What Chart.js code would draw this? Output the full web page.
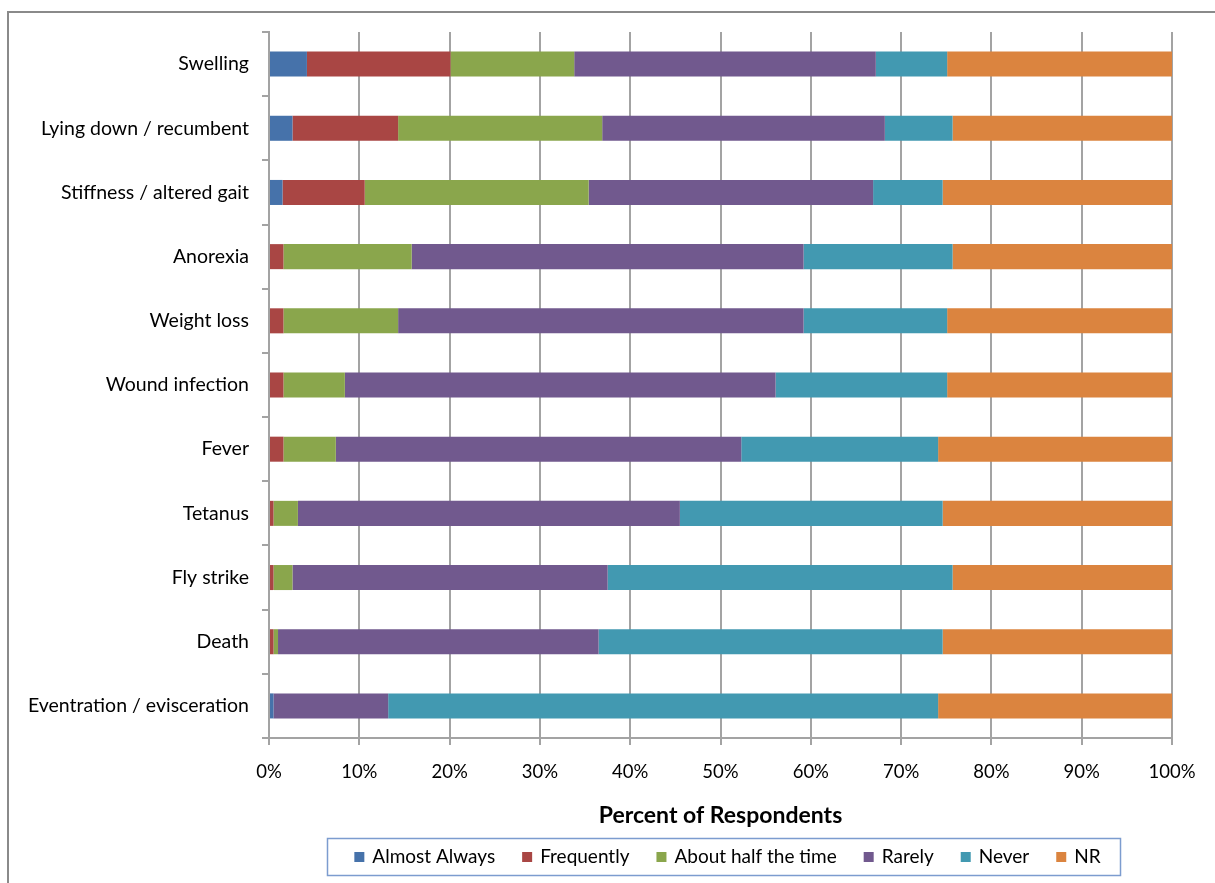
<!DOCTYPE html>
<html>
<head>
<meta charset="utf-8">
<script src="https://cdn.jsdelivr.net/npm/chart.js@4/dist/chart.umd.min.js"></script>
<style>
  html, body { margin: 0; padding: 0; background: #fff; }
  #wrap { width: 1215px; height: 883px; position: relative; }
</style>
</head>
<body>
<div id="wrap"><canvas id="c" width="1215" height="883"></canvas></div>
<script>
const categories = ["Swelling", "Lying down / recumbent", "Stiffness / altered gait", "Anorexia", "Weight loss", "Wound infection", "Fever", "Tetanus", "Fly strike", "Death", "Eventration / evisceration"];
const seriesNames = ["Almost Always", "Frequently", "About half the time", "Rarely", "Never", "NR"];
const almostAlways = [4.2, 2.6, 1.5, 0, 0, 0, 0, 0, 0, 0, 0.5];
const frequently   = [15.9, 11.7, 9.1, 1.6, 1.6, 1.6, 1.6, 0.5, 0.5, 0.5, 0];
const aboutHalf    = [13.7, 22.6, 24.8, 14.2, 12.7, 6.8, 5.8, 2.7, 2.1, 0.5, 0];
const rarely       = [33.4, 31.3, 31.5, 43.4, 44.9, 47.7, 44.9, 42.3, 34.9, 35.5, 12.7];
const never        = [7.9, 7.5, 7.7, 16.5, 15.9, 19.0, 21.8, 29.1, 38.2, 38.1, 60.9];
const nr           = [24.9, 24.3, 25.4, 24.3, 24.9, 24.9, 25.9, 25.4, 24.3, 25.4, 25.9];
const xTicks = [0, 10, 20, 30, 40, 50, 60, 70, 80, 90, 100];
const colors = ["#4672aa", "#a94644", "#8aa64c", "#71598e", "#4299b1", "#db843f"];
const seriesData = [almostAlways, frequently, aboutHalf, rarely, never, nr];

const FONT = "Lato";
const GRID = "#a3a3a3";

const frame = {
  id: 'frame',
  beforeDraw(chart) {
    const ctx = chart.ctx;
    ctx.save();
    ctx.fillStyle = '#fff';
    ctx.fillRect(0, 0, chart.width, chart.height);
    ctx.strokeStyle = '#8a8a8a';
    ctx.lineWidth = 2;
    ctx.strokeRect(8, 12, 1400, 1000);
    ctx.restore();
  }
};

const customLegend = {
  id: 'customLegend',
  afterDraw(chart) {
    const ctx = chart.ctx;
    ctx.save();
    ctx.font = "19px " + FONT;
    const box = 10, textGap = 8, itemGap = 27;
    const widths = seriesNames.map(n => box + textGap + ctx.measureText(n).width);
    const total = widths.reduce((a, b) => a + b, 0) + itemGap * (widths.length - 1);
    const ca = chart.chartArea;
    const center = (ca.left + ca.right) / 2 + 7;
    let x = center - total / 2;
    const cy = 857;
    ctx.strokeStyle = '#7c9ccf';
    ctx.lineWidth = 1.5;
    ctx.strokeRect(Math.round(x - 27) + 0.5, 838.5, Math.round(total + 47), 37);
    ctx.textBaseline = 'middle';
    ctx.textAlign = 'left';
    seriesNames.forEach((n, i) => {
      ctx.fillStyle = colors[i];
      ctx.fillRect(x, cy - 5, box, box);
      ctx.fillStyle = '#000';
      ctx.fillText(n, x + box + textGap, cy);
      x += widths[i] + itemGap;
    });
    ctx.restore();
  }
};

new Chart(document.getElementById('c'), {
  type: 'bar',
  data: {
    labels: categories,
    datasets: seriesNames.map((n, i) => ({
      label: n,
      data: seriesData[i],
      backgroundColor: colors[i],
      borderWidth: 0,
      barPercentage: 0.39,
      categoryPercentage: 1.0
    }))
  },
  options: {
    indexAxis: 'y',
    responsive: false,
    animation: false,
    layout: { padding: { left: 0, right: 43, top: 32, bottom: 53 } },
    plugins: {
      legend: { display: false },
      tooltip: { enabled: false }
    },
    scales: {
      x: {
        stacked: true,
        min: 0,
        max: 100,
        afterBuildTicks(scale) { scale.ticks = xTicks.map(v => ({ value: v })); },
        ticks: {
          callback: v => v + '%',
          font: { family: FONT, size: 18.5 },
          color: '#000',
          padding: 16,
          maxRotation: 0
        },
        grid: { color: GRID, lineWidth: 2, tickLength: 7, drawTicks: true },
        border: { display: true, color: GRID, width: 2 },
        title: {
          display: true,
          text: 'Percent of Respondents',
          font: { family: FONT, size: 23, weight: 'bold', lineHeight: 1.2 },
          color: '#000',
          padding: { top: 0, bottom: 1 }
        },
        afterFit(scale) { scale.height = 92; }
      },
      y: {
        stacked: true,
        ticks: {
          font: { family: FONT, size: 19.5 },
          color: '#000',
          padding: 13
        },
        grid: { display: true, drawOnChartArea: false, color: GRID, lineWidth: 2, tickLength: 7, offset: true },
        border: { display: true, color: GRID, width: 2 },
        afterFit(scale) { scale.width = 269; }
      }
    }
  },
  plugins: [frame, customLegend]
});
</script>
</body>
</html>
